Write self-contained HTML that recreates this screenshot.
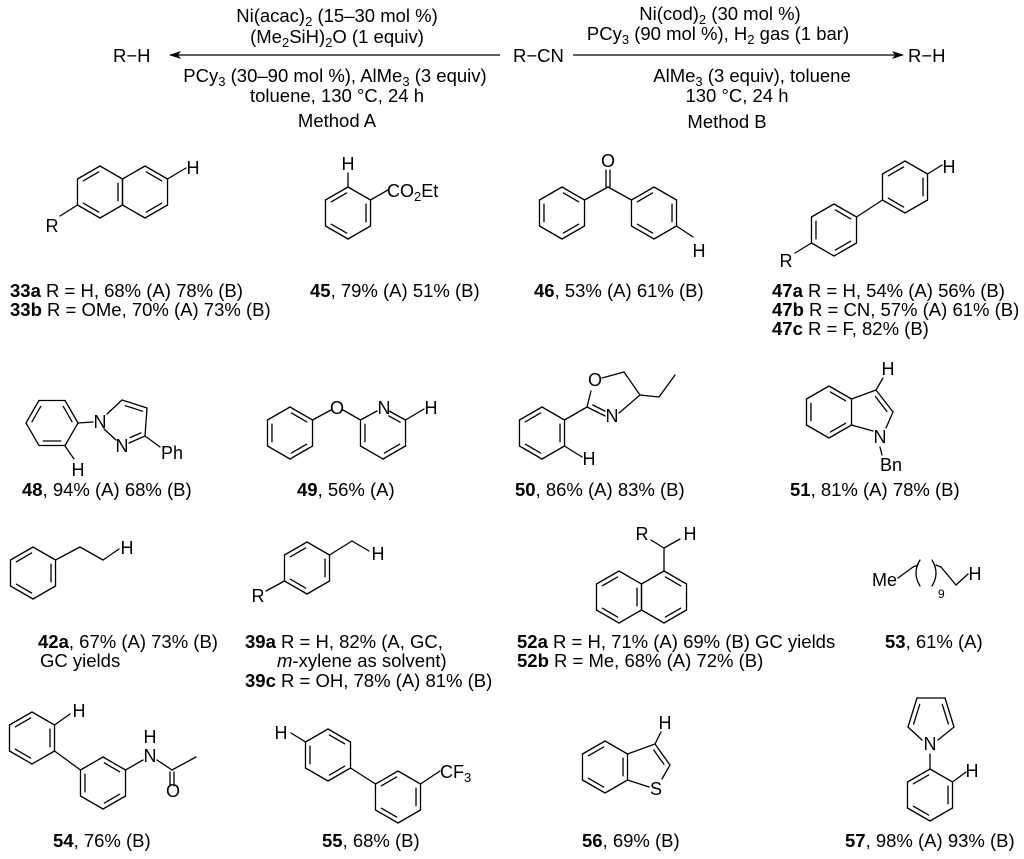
<!DOCTYPE html>
<html><head><meta charset="utf-8"><style>
html,body{margin:0;padding:0;background:#fff}
svg{display:block}
text{font-family:"Liberation Sans",Arial,sans-serif;fill:#000}
.t{font-size:18.5px}
.l{font-size:18.5px}
.a{font-size:18px}
</style></head><body>
<svg id="s" width="1024" height="859" viewBox="0 0 1024 859" xmlns="http://www.w3.org/2000/svg">
<g id="g" stroke="#000" stroke-width="1.3" fill="none" stroke-linecap="round"></g>
<defs><marker id="ah" markerWidth="12" markerHeight="8" refX="11" refY="4" orient="auto" markerUnits="userSpaceOnUse"><path d="M0,0 L12,4 L0,8 L3,4 z" fill="#000" stroke="none"/></marker></defs>
<line x1="500" y1="55" x2="170" y2="55" stroke="#000" stroke-width="1.3" marker-end="url(#ah)"/>
<line x1="573" y1="55" x2="903" y2="55" stroke="#000" stroke-width="1.3" marker-end="url(#ah)"/>
<text class="t" x="113" y="62">R−H</text>
<text class="t" x="513" y="62">R−CN</text>
<text class="t" x="908" y="62">R−H</text>
<g class="t" text-anchor="middle">
<text x="337" y="22">Ni(acac)<tspan font-size="13" dy="4">2</tspan><tspan dy="-4"> (15–30 mol %)</tspan></text>
<text x="337" y="43">(Me<tspan font-size="13" dy="4">2</tspan><tspan dy="-4">SiH)</tspan><tspan font-size="13" dy="4">2</tspan><tspan dy="-4">O (1 equiv)</tspan></text>
<text x="335" y="82">PCy<tspan font-size="13" dy="4">3</tspan><tspan dy="-4"> (30–90 mol %), AlMe</tspan><tspan font-size="13" dy="4">3</tspan><tspan dy="-4"> (3 equiv)</tspan></text>
<text x="337" y="102">toluene, 130 °C, 24 h</text>
<text x="337" y="127">Method A</text>
<text x="720" y="20">Ni(cod)<tspan font-size="13" dy="4">2</tspan><tspan dy="-4"> (30 mol %)</tspan></text>
<text x="718" y="40">PCy<tspan font-size="13" dy="4">3</tspan><tspan dy="-4"> (90 mol %), H</tspan><tspan font-size="13" dy="4">2</tspan><tspan dy="-4"> gas (1 bar)</tspan></text>
<text x="752" y="82">AlMe<tspan font-size="13" dy="4">3</tspan><tspan dy="-4"> (3 equiv), toluene</tspan></text>
<text x="737" y="102">130 °C, 24 h</text>
<text x="727" y="128">Method B</text>
</g>
<g class="a" text-anchor="middle">
<text x="193" y="174">H</text><text x="52" y="232">R</text>
<text x="348" y="170">H</text><text x="608" y="167">O</text><text x="699" y="257">H</text>
<text x="949" y="173">H</text><text x="786" y="267">R</text>
<text x="100" y="428">N</text><text x="122" y="452">N</text><text x="78" y="476">H</text>
<text x="337" y="414">O</text><text x="384" y="414">N</text><text x="431" y="414">H</text>
<text x="595" y="386">O</text><text x="612" y="422">N</text><text x="589" y="465">H</text>
<text x="880" y="443">N</text><text x="888" y="375">H</text>
<text x="127" y="554">H</text><text x="378" y="560">H</text><text x="258" y="602">R</text>
<text x="642" y="540">R</text><text x="690" y="540">H</text><text x="975" y="580">H</text>
<text x="79" y="717">H</text><text x="150" y="743">H</text><text x="150" y="762">N</text><text x="173" y="797">O</text>
<text x="281" y="739">H</text><text x="656" y="795">S</text><text x="665" y="729">H</text>
<text x="930" y="750">N</text><text x="972" y="777">H</text>
</g>
<text class="a" x="161" y="459">Ph</text>
<text class="a" x="880" y="471">Bn</text>
<text class="a" x="387" y="197">CO<tspan font-size="13" dy="4">2</tspan><tspan dy="-4">Et</tspan></text>
<text class="a" x="440" y="778">CF<tspan font-size="13" dy="4">3</tspan></text>
<text class="a" x="872" y="586">Me</text>
<text x="938" y="598" font-size="12">9</text>
<g class="l">
<text x="10" y="297"><tspan font-weight="bold">33a</tspan> R = H,  68% (A) 78% (B)</text>
<text x="10" y="316"><tspan font-weight="bold">33b</tspan> R = OMe, 70% (A) 73% (B)</text>
<text x="310" y="297"><tspan font-weight="bold">45</tspan>, 79% (A) 51% (B)</text>
<text x="534" y="297"><tspan font-weight="bold">46</tspan>, 53% (A)  61% (B)</text>
<text x="772" y="297"><tspan font-weight="bold">47a</tspan> R = H, 54% (A) 56% (B)</text>
<text x="772" y="316"><tspan font-weight="bold">47b</tspan> R = CN, 57% (A) 61% (B)</text>
<text x="772" y="335"><tspan font-weight="bold">47c</tspan> R = F, 82% (B)</text>
<text x="22" y="496"><tspan font-weight="bold">48</tspan>, 94% (A) 68% (B)</text>
<text x="297" y="496"><tspan font-weight="bold">49</tspan>, 56% (A)</text>
<text x="515" y="496"><tspan font-weight="bold">50</tspan>, 86% (A) 83% (B)</text>
<text x="790" y="496"><tspan font-weight="bold">51</tspan>, 81% (A) 78% (B)</text>
<text x="38" y="648"><tspan font-weight="bold">42a</tspan>, 67% (A) 73% (B)</text>
<text x="40" y="667">GC yields</text>
<text x="245" y="648"><tspan font-weight="bold">39a</tspan> R = H, 82% (A, GC,</text>
<text x="277" y="667"><tspan font-style="italic">m</tspan>-xylene as solvent)</text>
<text x="245" y="687"><tspan font-weight="bold">39c</tspan> R = OH, 78% (A) 81% (B)</text>
<text x="517" y="648"><tspan font-weight="bold">52a</tspan> R = H, 71% (A) 69% (B) GC yields</text>
<text x="517" y="667"><tspan font-weight="bold">52b</tspan> R = Me, 68% (A) 72% (B)</text>
<text x="885" y="648"><tspan font-weight="bold">53</tspan>, 61% (A)</text>
<text x="53" y="847"><tspan font-weight="bold">54</tspan>, 76% (B)</text>
<text x="322" y="847"><tspan font-weight="bold">55</tspan>, 68% (B)</text>
<text x="582" y="847"><tspan font-weight="bold">56</tspan>, 69% (B)</text>
<text x="845" y="847"><tspan font-weight="bold">57</tspan>, 98% (A) 93% (B)</text>
</g>
</svg>
<script>
var g=document.getElementById('g'),NS='http://www.w3.org/2000/svg';
function L(a,b,c,d){var e=document.createElementNS(NS,'line');e.setAttribute('x1',a);e.setAttribute('y1',b);e.setAttribute('x2',c);e.setAttribute('y2',d);g.appendChild(e);}
function inner(p,q,cx,cy){var mx=(p[0]+q[0])/2,my=(p[1]+q[1])/2,dx=cx-mx,dy=cy-my,d=Math.hypot(dx,dy),o=4.5;dx=dx/d*o;dy=dy/d*o;var s=0.16;
L(p[0]+(q[0]-p[0])*s+dx,p[1]+(q[1]-p[1])*s+dy,q[0]-(q[0]-p[0])*s+dx,q[1]-(q[1]-p[1])*s+dy);}
function verts(cx,cy,flat,r){r=r||26;var v=[];for(var i=0;i<6;i++){var a=((flat?0:-90)+60*i)*Math.PI/180;v.push([cx+r*Math.cos(a),cy+r*Math.sin(a)]);}return v;}
function ring(cx,cy,dbl,flat,r){var v=verts(cx,cy,flat,r);
for(var i=0;i<6;i++){L(v[i][0],v[i][1],v[(i+1)%6][0],v[(i+1)%6][1]);}
(dbl||[]).forEach(function(k){inner(v[k],v[(k+1)%6],cx,cy);});return v;}
// 33
ring(100,192,[5,3,1]);ring(145,192,[0,2]);L(167.5,179,186,168);L(77.5,205,60,216);
// 45
ring(348,213,[5,3,1]);L(348,187,348,173);L(370.5,200,388,190);
// 46
ring(562,213,[0,2,4]);ring(654,213,[1,3,5]);L(584.5,200,608,187);L(608,187,631.5,200);L(606,187,606,170);L(610,187,610,170);L(676.5,226,693,237);
// 47
ring(834,230,[0,2,4]);ring(905,187,[1,3,5]);L(856.5,217,882.5,200);L(927.5,174,942,165);L(811.5,243,795,253);
// 48
ring(52,423,[1,3,5],true);L(78,423,93,422);L(65,446,74,459);
L(107,414,122,400);L(122,400,147,408);L(147,408,145,436);L(145,436,129,443);L(104,429,116,440);L(145,436,160,447);
inner([122,400],[147,408],132,425);inner([145,436],[129,443],132,425);
// 49
ring(290,433,[0,2,4]);L(312.5,420,331,410);L(343,410,360.5,420);
var v=verts(383,433,false);
var n1=[v[0][0]+6,v[0][1]+4],n2=[v[0][0]-6,v[0][1]+4];
L(n1[0],n1[1],v[1][0],v[1][1]);L(v[1][0],v[1][1],v[2][0],v[2][1]);L(v[2][0],v[2][1],v[3][0],v[3][1]);
L(v[3][0],v[3][1],v[4][0],v[4][1]);L(v[4][0],v[4][1],v[5][0],v[5][1]);L(v[5][0],v[5][1],n2[0],n2[1]);
inner(n1,v[1],383,433);inner(v[2],v[3],383,433);inner(v[4],v[5],383,433);
L(v[1][0],v[1][1],424,409);
// 50
ring(542,433,[5,3,1]);L(564.5,420,587,407);L(587,407,591,391);L(602,378,624,372);L(624,372,640,395);L(640,395,619,413);L(605,416,587,407);inner([587,407],[605,416],610,395);L(640,395,659,397);L(659,397,675,375);L(564.5,446,582,457);
// 51
ring(829,412,[0,2,4]);L(851.5,399,876,390);L(876,390,893,412);L(893,412,886,428);L(873,431,851.5,425);inner([876,390],[893,412],872,412);L(876,390,883,378);L(880,447,882,455);
// 42a
ring(33,573,[5,3,1]);L(55.5,560,80,547);L(80,547,103,560);L(103,560,119,549);
// 39
ring(307,568,[5,3,1]);L(329.5,555,352,541);L(352,541,369,551);L(284.5,581,266,591);
// 52
ring(619,597,[5,3,1]);ring(664,597,[0,2]);L(664,571,664,548);L(664,548,651,540);L(664,548,680,539);
// 53
L(898,578,913,567);L(941,567,956,585);L(956,585,968,574);
var pa=document.createElementNS(NS,'path');pa.setAttribute('d','M920,560 Q912,573 920,586 M932,560 Q940,573 932,586');g.appendChild(pa);
L(913,567,918,565);L(936,565,941,567);
// 54
ring(32,738,[5,3,1]);L(54.5,725,70,714);ring(103,783,[0,2,4]);L(54.5,751,80.5,770);L(125.5,770,143,760);L(157,760,172,770);L(172,770,196,757);L(170,772,170,786);L(174,772,174,786);
// 55
ring(328,755,[0,2,4]);L(305.5,742,291,733);ring(398,797,[5,3,1]);L(350.5,768,375.5,784);L(420.5,784,440,771);
// 56
ring(605,767,[5,3,1]);L(627.5,754,655,744);L(655,744,670,765);L(670,765,662,779);L(649,787,627.5,780);inner([655,744],[670,765],648,765);L(655,744,661,732);
// 57
L(917,698,945,698);L(945,698,954,727);L(954,727,938,740);L(922,740,908,727);L(908,727,917,698);
inner([917,698],[908,727],930,720);inner([945,698],[954,727],930,720);
L(930,754,930,769);ring(930,795,[1,3,5]);L(952.5,782,966,772);
</script>
</body></html>
